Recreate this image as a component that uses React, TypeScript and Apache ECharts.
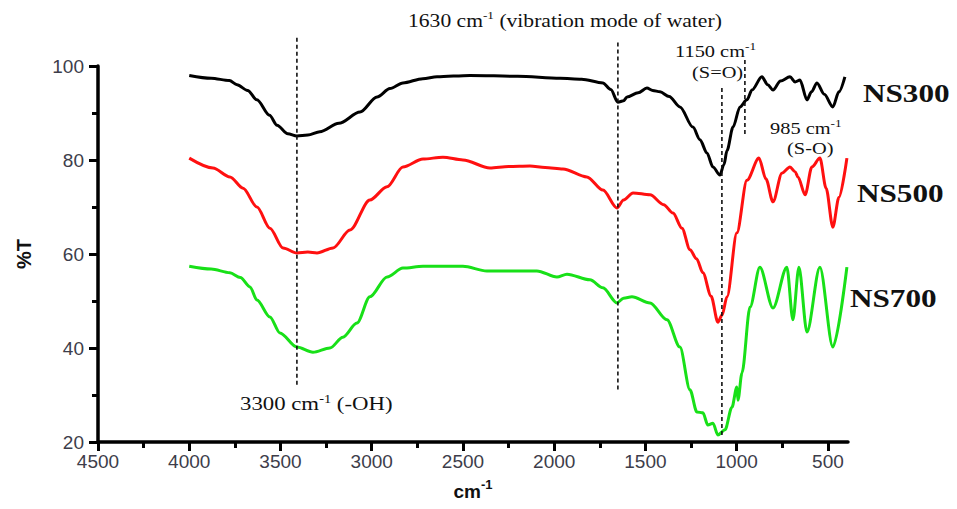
import { useEffect, useRef } from "react";
import * as echarts from "echarts";

// ---- Data ----
const ns300Wavenumbers = [4000, 3880, 3780, 3738, 3680, 3629, 3560, 3519, 3460, 3410, 3350, 3284, 3180, 3064, 2971, 2900, 2829, 2720, 2642, 2462, 2200, 1968, 1850, 1733, 1690, 1651, 1620, 1601, 1540, 1492, 1460, 1420, 1370, 1311, 1240, 1201, 1163, 1130, 1092, 1070, 1053, 1020, 982, 944, 916, 862, 830, 801, 760, 708, 680, 653, 615, 590, 560, 520, 473, 440, 407];
const ns300Transmittance = [98.0, 97.4, 96.9, 96.0, 94.8, 92.8, 89.5, 87.4, 85.6, 85.1, 85.3, 86.0, 87.8, 90.2, 93.4, 95.2, 96.4, 97.3, 97.7, 98.0, 97.8, 97.4, 97.2, 96.4, 95.0, 92.3, 92.6, 93.4, 94.3, 95.3, 94.8, 94.5, 93.5, 91.3, 87.0, 84.3, 81.5, 78.5, 76.8, 79.0, 82.0, 87.0, 91.3, 92.8, 94.9, 97.7, 96.0, 94.9, 96.8, 97.7, 96.6, 97.0, 92.8, 94.5, 96.4, 94.0, 91.3, 94.5, 97.7];

const ns500Wavenumbers = [4000, 3870, 3777, 3705, 3629, 3558, 3486, 3410, 3350, 3300, 3212, 3119, 3010, 2916, 2829, 2719, 2610, 2500, 2352, 2250, 2133, 2050, 1952, 1821, 1733, 1656, 1620, 1568, 1475, 1400, 1349, 1300, 1256, 1220, 1185, 1140, 1103, 1080, 1053, 999, 944, 878, 840, 801, 752, 708, 680, 664, 625, 588, 544, 510, 473, 440, 396];
const ns500Transmittance = [80.4, 78.3, 76.4, 74.0, 70.0, 65.5, 61.3, 60.2, 60.4, 60.2, 61.3, 65.1, 71.5, 74.3, 78.5, 80.2, 80.6, 80.0, 78.3, 78.6, 78.7, 78.4, 78.1, 76.4, 73.6, 69.8, 71.5, 73.0, 72.6, 70.5, 68.7, 65.5, 60.9, 59.0, 56.0, 51.0, 45.5, 47.0, 50.9, 64.5, 75.7, 80.4, 76.0, 71.1, 77.2, 78.5, 77.5, 76.4, 72.6, 78.5, 80.4, 74.0, 65.7, 72.0, 80.4];

const ns700Wavenumbers = [4000, 3880, 3777, 3720, 3667, 3629, 3558, 3503, 3410, 3322, 3229, 3158, 3081, 3010, 2916, 2829, 2719, 2500, 2369, 2095, 1985, 1930, 1804, 1733, 1656, 1620, 1574, 1475, 1382, 1311, 1256, 1218, 1185, 1158, 1130, 1103, 1064, 1026, 999, 993, 971, 927, 873, 801, 725, 692, 659, 615, 544, 473, 396];
const ns700Transmittance = [57.4, 56.8, 56.0, 55.0, 53.0, 50.2, 46.6, 43.2, 40.2, 39.1, 40.0, 42.3, 45.3, 50.9, 55.1, 57.0, 57.4, 57.4, 56.4, 56.4, 55.1, 55.7, 54.5, 52.8, 49.6, 50.6, 50.9, 49.6, 46.0, 40.2, 31.1, 26.4, 26.2, 23.6, 24.0, 21.5, 22.6, 27.4, 31.7, 28.9, 34.7, 48.7, 57.2, 48.5, 57.2, 46.0, 57.2, 43.4, 57.2, 40.2, 57.2];

const xMajorTicks = [4500, 4000, 3500, 3000, 2500, 2000, 1500, 1000, 500];
const xMinorTicks = [4250, 3750, 3250, 2750, 2250, 1750, 1250, 750];

// dashed reference lines: wavenumber, top %T, bottom %T
const refLineWavenumbers = [3410, 1651, 1081, 955];
const refLineTop = [106, 105, 95.3, 101.3];
const refLineBottom = [32.1, 30.6, 21.1, 84.9];

const seriesNames = ["NS300", "NS500", "NS700"];
const seriesColors = ["#000000", "#ff1010", "#18e018"];

const zip = (xs: number[], ys: number[]) => xs.map((x, i) => [x, ys[i]]);

const SERIF = "'Liberation Serif', 'Times New Roman', serif";
const SANS = "'Liberation Sans', Arial, sans-serif";

function annot(text: string, x: number, y: number, fontSize: number) {
  return {
    type: "text",
    x,
    y,
    scaleX: 1.2,
    style: {
      text,
      fontFamily: SERIF,
      fontSize,
      lineHeight: fontSize + 4,
      fill: "#111",
      align: "left",
      verticalAlign: "middle",
      rich: {
        sup: {
          fontFamily: SERIF,
          fontSize: Math.round(fontSize * 0.62),
          lineHeight: Math.round(fontSize * 0.6),
          verticalAlign: "top",
          fill: "#111",
        },
      },
    },
  };
}

function nameLabel(text: string, x: number, y: number) {
  return {
    type: "text",
    x,
    y,
    scaleX: 1.2,
    style: {
      text,
      fontFamily: SERIF,
      fontSize: 26,
      fontWeight: "bold",
      fill: "#111",
      align: "left",
      verticalAlign: "middle",
    },
  };
}

const fmt = (v: number) => String(v);

export default function App() {
  const ref = useRef<HTMLDivElement>(null);

  useEffect(() => {
    document.body.style.margin = "0";
    if (!ref.current) return;
    const chart = echarts.init(ref.current, undefined, { renderer: "svg" });

    const grid = { left: 98, right: 109, top: 66, bottom: 67, containLabel: false };
    const tickStyle = { color: "#000000", width: 3 };

    const option: any = {
      animation: false,
      backgroundColor: "#ffffff",
      grid: [grid, { ...grid }],
      xAxis: [
        {
          type: "value",
          gridIndex: 0,
          inverse: true,
          min: 390,
          max: 4500,
          name: "cm{sup|-1}",
          nameLocation: "middle",
          nameGap: 36,
          nameTextStyle: {
            fontFamily: SANS,
            fontSize: 19,
            fontWeight: "bold",
            color: "#111",
            lineHeight: 26,
            rich: {
              sup: { fontFamily: SANS, fontSize: 13, fontWeight: "bold", color: "#111", lineHeight: 12, verticalAlign: "top" },
            },
          },
          axisLine: { show: true, lineStyle: { color: "#000", width: 3.5 } },
          axisTick: { show: true, inside: false, customValues: xMajorTicks, length: 9, lineStyle: tickStyle },
          axisLabel: { show: true, customValues: xMajorTicks, formatter: fmt, color: "#3d3d4a", fontSize: 19, fontFamily: SANS, margin: 10 },
          splitLine: { show: false },
        },
        {
          type: "value",
          gridIndex: 1,
          position: "bottom",
          inverse: true,
          min: 390,
          max: 4500,
          axisLine: { show: false },
          axisTick: { show: true, inside: false, customValues: xMinorTicks, length: 6, lineStyle: tickStyle },
          axisLabel: { show: false },
          splitLine: { show: false },
        },
      ],
      yAxis: [
        {
          type: "value",
          gridIndex: 0,
          min: 20,
          max: 100,
          interval: 20,
          name: "%T",
          nameLocation: "middle",
          nameGap: 64,
          nameTextStyle: { fontFamily: SANS, fontSize: 20, fontWeight: "bold", color: "#111" },
          axisLine: { show: true, lineStyle: { color: "#000", width: 3.5 } },
          axisTick: { show: true, inside: false, length: 9, lineStyle: tickStyle },
          minorTick: { show: true, splitNumber: 2, length: 6, lineStyle: tickStyle },
          axisLabel: { show: true, formatter: fmt, color: "#3d3d4a", fontSize: 19, fontFamily: SANS, margin: 14 },
          splitLine: { show: false },
          minorSplitLine: { show: false },
        },
        { type: "value", gridIndex: 1, min: 20, max: 100, show: false },
      ],
      series: [
        ...[
          zip(ns300Wavenumbers, ns300Transmittance),
          zip(ns500Wavenumbers, ns500Transmittance),
          zip(ns700Wavenumbers, ns700Transmittance),
        ].map((data, i) => ({
          name: seriesNames[i],
          type: "line",
          xAxisIndex: 0,
          yAxisIndex: 0,
          data,
          showSymbol: false,
          smooth: 0.3,
          smoothMonotone: "x",
          lineStyle: { color: seriesColors[i], width: 3 },
          itemStyle: { color: seriesColors[i] },
        })),
        {
          type: "custom",
          xAxisIndex: 0,
          yAxisIndex: 0,
          clip: false,
          silent: true,
          encode: { x: 0, y: [1, 2] },
          data: refLineWavenumbers.map((w, i) => [w, refLineTop[i], refLineBottom[i]]),
          renderItem: (_params: any, api: any) => {
            const p1 = api.coord([api.value(0), api.value(1)]);
            const p2 = api.coord([api.value(0), api.value(2)]);
            return {
              type: "line",
              shape: { x1: p1[0], y1: p1[1], x2: p2[0], y2: p2[1] },
              style: { stroke: "#111", lineWidth: 1.6, lineDash: [4, 3] },
            };
          },
          z: 5,
        },
      ],
      graphic: [
        annot("1630 cm{sup|-1} (vibration mode of water)", 408, 21, 18),
        annot("1150 cm{sup|-1}", 675, 51, 17),
        annot("(S=O)", 692, 72, 17),
        annot("985 cm{sup|-1}", 770, 128, 17),
        annot("(S-O)", 787, 148, 17),
        annot("3300 cm{sup|-1} (-OH)", 240, 404, 19),
        nameLabel(seriesNames[0], 863, 93),
        nameLabel(seriesNames[1], 857, 193),
        nameLabel(seriesNames[2], 850, 298),
      ],
    };

    chart.setOption(option);
    return () => {
      chart.dispose();
    };
  }, []);

  return <div ref={ref} style={{ width: 957, height: 509 }} />;
}
